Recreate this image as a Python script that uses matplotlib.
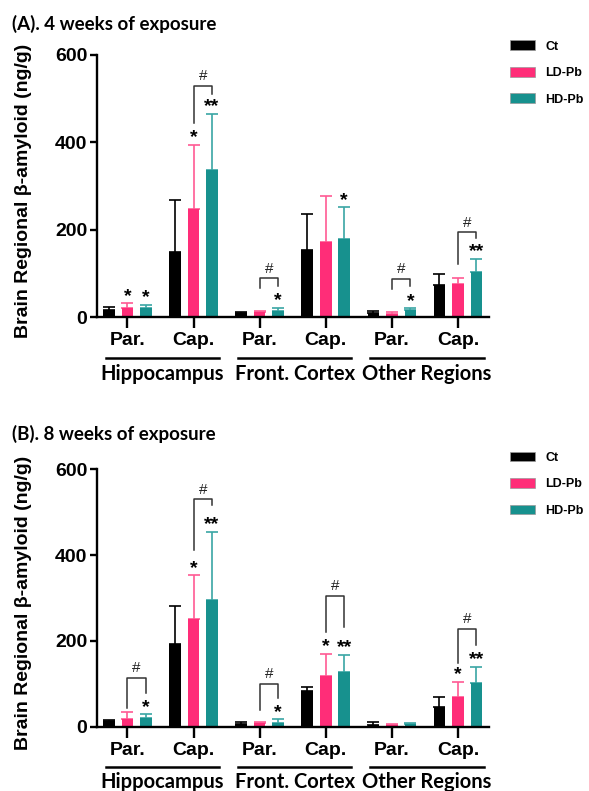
import numpy as np
import matplotlib
matplotlib.use("Agg")
import matplotlib.pyplot as plt
import matplotlib.transforms as mtransforms
from matplotlib.patches import Patch
from matplotlib import font_manager

# groups along the x axis
sites = ["Par.", "Cap.", "Par.", "Cap.", "Par.", "Cap."]
regions = ["Hippocampus", "Front. Cortex", "Other Regions"]
series = ["Ct", "LD-Pb", "HD-Pb"]

# (A) 4 weeks : means and upper SD
ct_a = [17, 150, 9, 154, 9, 74]
ld_a = [21, 248, 12, 171, 8, 76]
hd_a = [20, 337, 15, 180, 17, 104]
ct_a_sd = [7, 119, 4, 83, 6, 25]
ld_a_sd = [11, 146, 3, 106, 5, 14]
hd_a_sd = [9, 129, 7, 71, 3, 29]

# (B) 8 weeks
ct_b = [14, 192, 6, 84, 5, 46]
ld_b = [19, 250, 8, 118, 5, 70]
hd_b = [21, 296, 10, 127, 6, 103]
ct_b_sd = [3, 90, 6, 9, 6, 24]
ld_b_sd = [15, 103, 3, 52, 2, 35]
hd_b_sd = [8, 158, 8, 40, 2, 37]

# stars : (group, series index, text)
stars_a = [(0, 1, "*"), (0, 2, "*"), (1, 1, "*"), (1, 2, "**"),
           (2, 2, "*"), (3, 2, "*"), (4, 2, "*"), (5, 2, "**")]
stars_b = [(0, 2, "*"), (1, 1, "*"), (1, 2, "**"), (2, 2, "*"),
           (3, 1, "*"), (3, 2, "**"), (5, 1, "*"), (5, 2, "**")]
# brackets LD vs HD : (group, top, LD leg end, HD leg end)
brackets_a = [(1, 529, 445, 511), (2, 89, 66, 72), (4, 88, 65, 72), (5, 194, 121, 181)]
brackets_b = [(0, 114, 43, 79), (1, 530, 411, 516), (2, 100, 40, 68),
              (3, 305, 220, 233), (5, 229, 148, 190)]

colors = ["#000000", "#ff2d78", "#17918e"]
err_colors = ["#000000", "#ff5a93", "#3aa6a4"]
offs = [-0.28, 0.0, 0.28]
bw = 0.175

arial = "Liberation Sans"

# calibri-like bold face: take the first family that really has a bold file
calibri = "Liberation Sans"
for fam in ["Lato", "Open Sans", "Noto Sans", "Roboto"]:
    try:
        f = font_manager.findfont(font_manager.FontProperties(family=fam, weight="bold"),
                                  fallback_to_default=False)
    except Exception:
        continue
    if "bold" in f.lower() or "black" in f.lower():
        calibri = fam
        break

fig = plt.figure(figsize=(5.89, 7.91), dpi=100)


def panel(rect, means, sds, stars, brackets, title, title_y, leg_y):
    ax = fig.add_axes(rect)
    x = np.arange(len(sites))
    for i in range(3):
        ax.bar(x + offs[i], means[i], bw, color=colors[i], zorder=2)
        ax.errorbar(x + offs[i], means[i], yerr=[np.zeros(len(x)), sds[i]],
                    fmt="none", ecolor=err_colors[i], elinewidth=1.2,
                    capsize=4.5, capthick=1.2, zorder=1)
    for g, s, t in stars:
        top = means[s][g] + sds[s][g]
        ax.annotate(t, (g + offs[s], top), xytext=(0, -1), textcoords="offset points",
                    ha="center", va="bottom", fontsize=14, fontfamily=arial,
                    fontweight="bold")
    for g, top, l1, l2 in brackets:
        ax.plot([g + offs[1], g + offs[1], g + offs[2], g + offs[2]],
                [l1, top, top, l2], color="#333333", lw=1.1, zorder=3)
        ax.text(g + (offs[1] + offs[2]) / 2, top + 6, "#", ha="center",
                va="bottom", fontsize=11, fontfamily=arial, color="#222222")

    ax.set_xlim(-0.46, 5.47)
    ax.set_ylim(0, 600)
    ax.set_yticks([0, 200, 400, 600])
    ax.set_xticks(x)
    ax.set_xticklabels(sites)
    for sp in ["top", "right"]:
        ax.spines[sp].set_visible(False)
    for sp in ["left", "bottom"]:
        ax.spines[sp].set_linewidth(1.7)
    ax.tick_params(axis="y", length=5, width=1.7, labelsize=14, pad=2)
    ax.tick_params(axis="x", length=8, width=1.7, labelsize=14, pad=3)
    for lab in ax.get_xticklabels() + ax.get_yticklabels():
        lab.set_fontfamily(arial)
        lab.set_fontweight("bold")
    ax.set_ylabel("Brain Regional β-amyloid (ng/g)", fontsize=14,
                  fontfamily=arial, fontweight="bold")
    ax.yaxis.set_label_coords(-0.165, 0.48)

    trans = mtransforms.blended_transform_factory(ax.transData, ax.transAxes)
    for k, name in enumerate(regions):
        x0, x1 = 2 * k - 0.33, 2 * k + 1.39
        ax.plot([x0, x1], [-0.157, -0.157], transform=trans, color="black",
                lw=1.8, clip_on=False)
        ax.text((x0 + x1) / 2, -0.215, name, transform=trans, ha="center",
                va="center", fontsize=14.5, fontfamily=calibri, fontweight="bold")

    fig.text(0.02, title_y, title, fontsize=13.5, fontfamily=calibri,
             fontweight="bold", va="center")
    handles = [Patch(facecolor=c, edgecolor="#999999", lw=0.5) for c in colors]
    fig.legend(handles, series, loc="upper left", bbox_to_anchor=(0.862, leg_y),
               frameon=False, prop={"family": arial, "weight": "bold", "size": 9},
               handlelength=2.0, handleheight=0.8, labelspacing=1.15,
               handletextpad=0.8, borderaxespad=0, borderpad=0.2)
    return ax


panel([0.1647, 0.599, 0.6655, 0.3315], [ct_a, ld_a, hd_a], [ct_a_sd, ld_a_sd, hd_a_sd],
      stars_a, brackets_a, "(A). 4 weeks of exposure", 0.970, 0.952)
panel([0.1647, 0.081, 0.6655, 0.326], [ct_b, ld_b, hd_b], [ct_b_sd, ld_b_sd, hd_b_sd],
      stars_b, brackets_b, "(B). 8 weeks of exposure", 0.452, 0.432)

fig.savefig("out.png", dpi=100)
